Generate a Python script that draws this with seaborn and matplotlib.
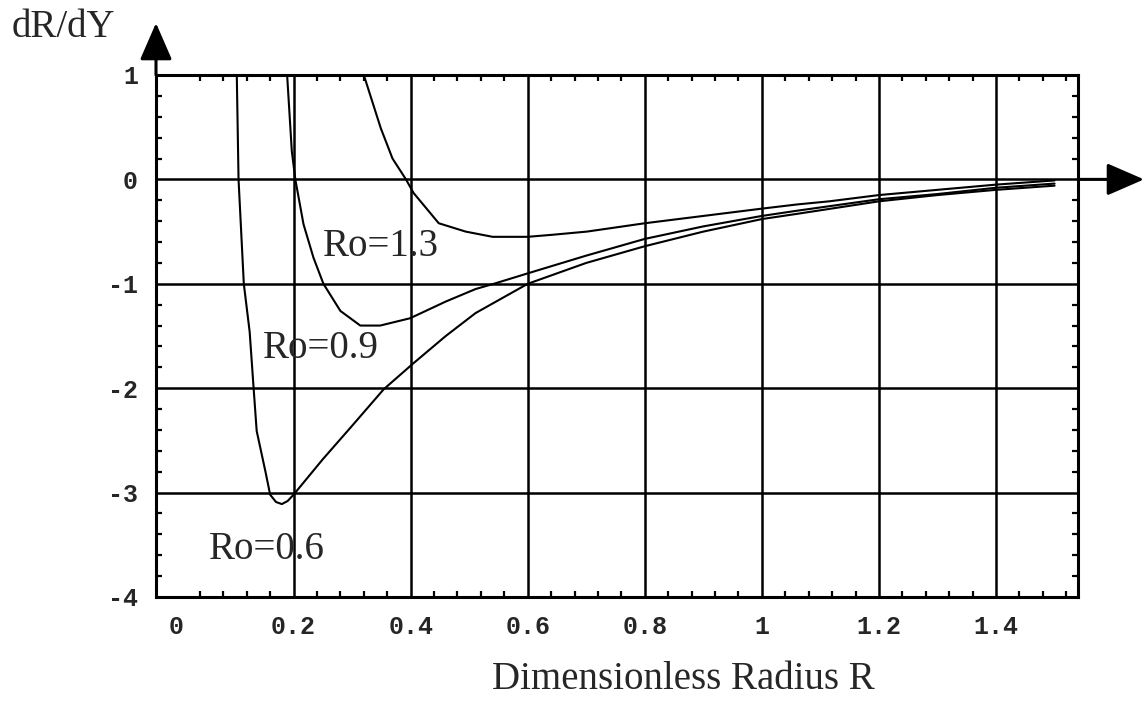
import numpy as np
import pandas as pd
import seaborn as sns
import matplotlib.pyplot as plt
from matplotlib.ticker import MultipleLocator

# curve values: dR/dY against dimensionless radius R
r_06 = [0.103, 0.106, 0.115, 0.125, 0.132, 0.137, 0.152, 0.160, 0.170, 0.180, 0.190, 0.200,
        0.25, 0.30, 0.354, 0.405, 0.46, 0.511, 0.60, 0.70, 0.80, 0.90, 1.00, 1.06, 1.20, 1.30, 1.40, 1.50]
d_06 = [1.0, 0.0, -1.0, -1.46, -2.02, -2.41, -2.80, -3.02, -3.09, -3.11, -3.08, -3.02,
        -2.68, -2.36, -2.01, -1.76, -1.50, -1.28, -1.00, -0.80, -0.64, -0.50, -0.38, -0.33, -0.21, -0.15, -0.10, -0.06]

r_09 = [0.189, 0.197, 0.203, 0.217, 0.234, 0.251, 0.280, 0.314, 0.348, 0.399, 0.46, 0.511,
        0.542, 0.60, 0.70, 0.80, 0.90, 1.00, 1.06, 1.20, 1.30, 1.40, 1.50]
d_09 = [1.0, 0.27, 0.0, -0.43, -0.75, -1.0, -1.26, -1.40, -1.40, -1.33, -1.17, -1.05,
        -1.0, -0.90, -0.73, -0.57, -0.45, -0.35, -0.30, -0.19, -0.14, -0.08, -0.04]

r_13 = [0.320, 0.349, 0.369, 0.392, 0.405, 0.448, 0.494, 0.540, 0.60, 0.643, 0.701, 0.80,
        0.90, 1.00, 1.06, 1.115, 1.20, 1.30, 1.40, 1.50]
d_13 = [1.0, 0.49, 0.20, 0.0, -0.13, -0.42, -0.50, -0.55, -0.55, -0.53, -0.50, -0.42,
        -0.35, -0.28, -0.24, -0.21, -0.15, -0.10, -0.05, -0.01]

curve_labels = ['Ro=0.6', 'Ro=0.9', 'Ro=1.3']
x_ticks = [0, 0.2, 0.4, 0.6, 0.8, 1, 1.2, 1.4]
x_tick_labels = ['0', '0.2', '0.4', '0.6', '0.8', '1', '1.2', '1.4']
y_ticks = [-4, -3, -2, -1, 0, 1]
y_tick_labels = ['-4', '-3', '-2', '-1', '0', '1']

df = pd.concat([
    pd.DataFrame({'R': r_06, 'dRdY': d_06, 'Ro': curve_labels[0]}),
    pd.DataFrame({'R': r_09, 'dRdY': d_09, 'Ro': curve_labels[1]}),
    pd.DataFrame({'R': r_13, 'dRdY': d_13, 'Ro': curve_labels[2]}),
])

sns.set_style('white')
plt.rcParams['font.family'] = ['Liberation Serif', 'DejaVu Serif']

W, H = 1145, 708
fig = plt.figure(figsize=(W / 100, H / 100), dpi=100)
ax = fig.add_axes([156 / W, 1 - 597 / H, (1078 - 156) / W, (597 - 75) / H])

# grid lines first so curves sit on top
for gx in x_ticks[1:]:
    ax.axvline(gx, color='black', lw=1.8, zorder=1)
for gy in y_ticks[1:-1]:
    ax.axhline(gy, color='black', lw=1.8, zorder=1)

sns.lineplot(data=df, x='R', y='dRdY', hue='Ro', palette=['black'] * 3,
             estimator=None, sort=False, lw=1.5, legend=False, ax=ax, zorder=3)

ax.set_xlim(-0.035, 1.54)
ax.set_ylim(-4, 1)

mono = {'family': 'Liberation Mono', 'weight': 'bold', 'size': 18}
ax.set_xticks(x_ticks)
ax.set_xticklabels(x_tick_labels, fontdict=mono)
ax.set_yticks(y_ticks)
ax.set_yticklabels(y_tick_labels, fontdict=mono)
ax.xaxis.set_minor_locator(MultipleLocator(0.04))
ax.yaxis.set_minor_locator(MultipleLocator(0.2))
ax.tick_params(which='major', length=0, pad=13)
ax.tick_params(which='minor', direction='in', length=4, width=1.6,
               top=True, bottom=True, left=True, right=True, color='black')
ax.set_xlabel('')
ax.set_ylabel('')

for sp in ax.spines.values():
    sp.set_visible(True)
    sp.set_color('black')
    sp.set_linewidth(2.2)

# curve labels
txt = dict(fontsize=28, va='baseline', ha='left', zorder=4)
ax.text(0.055, -3.636, curve_labels[0], **txt)
ax.text(0.147, -1.713, curve_labels[1], **txt)
ax.text(0.25, -0.737, curve_labels[2], **txt)

# axis arrows
arrow = dict(arrowstyle='-|>,head_length=2.3,head_width=1.0', color='black',
             lw=2.2, mutation_scale=10, shrinkA=0, shrinkB=0)
ax.annotate('', xy=(1.0716, 0), xytext=(1.0, 0),
            xycoords=('axes fraction', 'data'), textcoords=('axes fraction', 'data'),
            arrowprops=arrow, annotation_clip=False)
ax.annotate('', xy=(0, 1.0996), xytext=(0, 1.0),
            xycoords='axes fraction', textcoords='axes fraction',
            arrowprops=arrow, annotation_clip=False)

fig.text(12 / W, 1 - 37 / H, 'dR/dY', fontsize=28, va='baseline', ha='left')
fig.text(683 / W, 1 - 689 / H, 'Dimensionless Radius R', fontsize=28, va='baseline', ha='center')

fig.savefig('out.png', dpi=100)
